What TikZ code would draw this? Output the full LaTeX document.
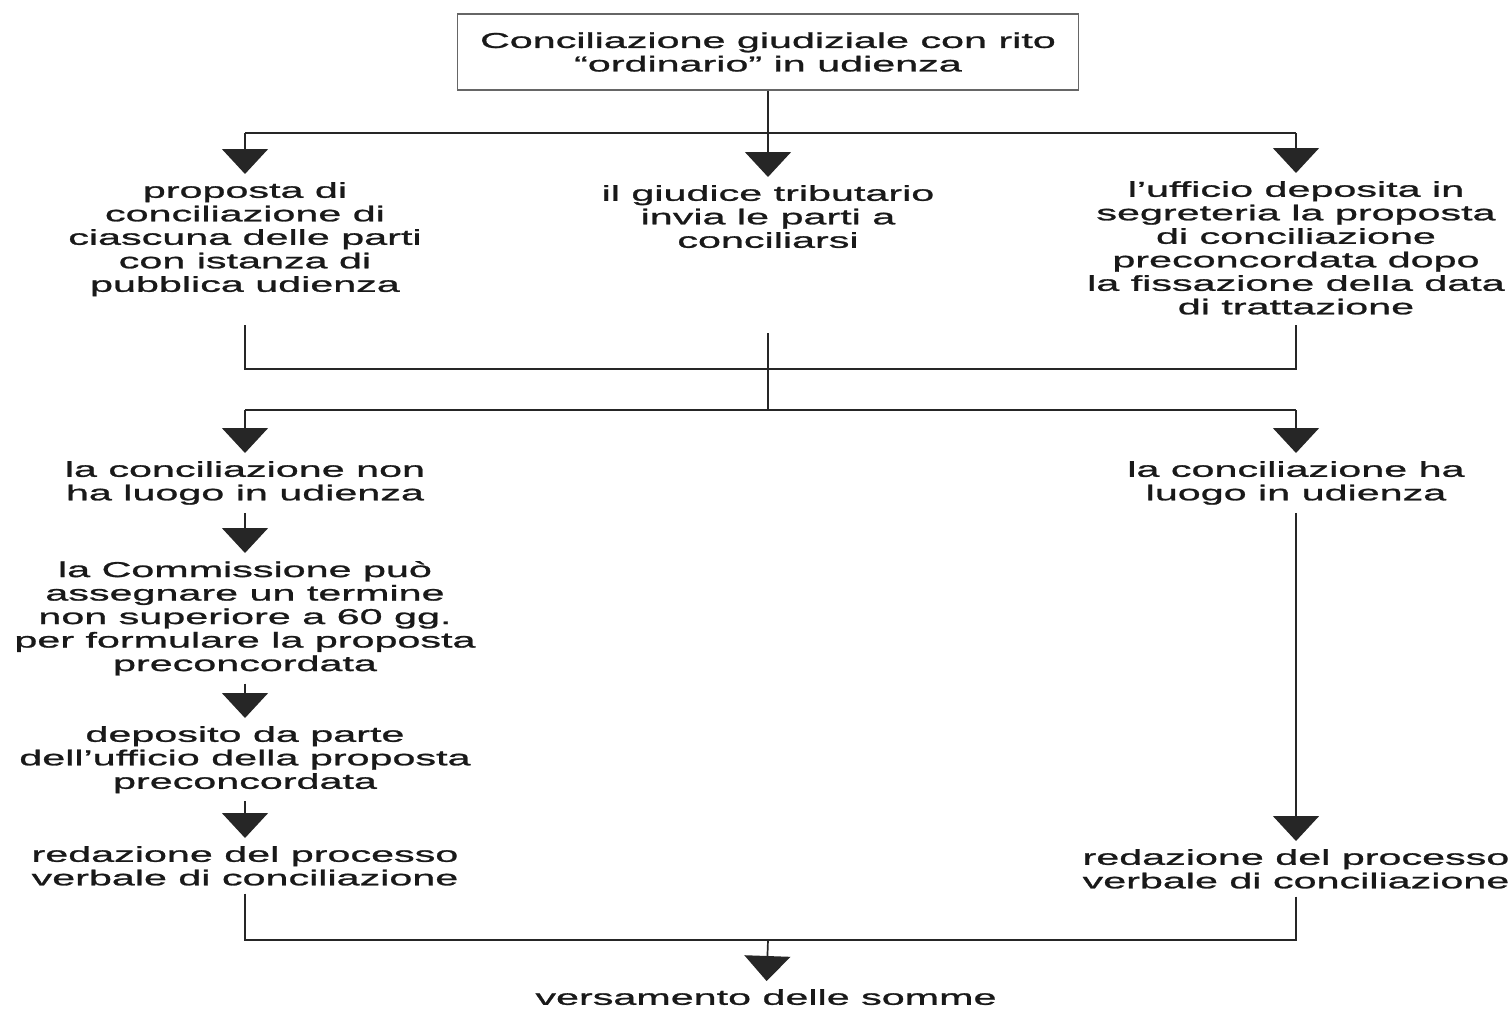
\documentclass[tikz,border=0pt]{standalone}
\usepackage{fontspec}
\setmainfont[FakeStretch=1.92, FakeBold=1.2]{Liberation Sans}
\usetikzlibrary{arrows.meta}

\begin{document}
\begin{tikzpicture}[x=1pt, y=-1pt, %%% one unit = one pixel of the page, y runs downwards
    txt/.style={align=center, inner xsep=0pt, inner ysep=8pt, anchor=north,
                font=\fontsize{21.5}{23.5}\selectfont, text=black!90},
    titlebox/.style={draw=black!60, line width=1.4pt, minimum width=621pt, minimum height=76pt,
                font=\fontsize{21.5}{23.5}\selectfont, align=center, text=black!90},
    lin/.style={draw=black!85, line width=1.7pt},
    arr/.style={lin, -{Triangle[width=46pt,length=25pt]}}]
      \useasboundingbox (0,0) rectangle (1510,1009);

      \node[titlebox] (title) at (768,52) {Conciliazione giudiziale con rito\\“ordinario” in udienza};

      %%% first row
      \node[txt] (propA) at (245,174) {proposta di\\conciliazione di\\ciascuna delle parti\\con istanza di\\pubblica udienza};
      \node[txt] (propB) at (768,177) {il giudice tributario\\invia le parti a\\conciliarsi};
      \node[txt] (propC) at (1296,173) {l’ufficio deposita in\\segreteria la proposta\\di conciliazione\\preconcordata dopo\\la fissazione della data\\di trattazione};

      \coordinate (jA) at (245,133);
      \coordinate (jB) at (768,133);
      \coordinate (jC) at (1296,133);
      \draw[lin] (title) -- (jB);
      \draw[lin] (jA) -- (jC);
      \draw[arr] (jA) -- (propA);
      \draw[arr] (jB) -- (propB);
      \draw[arr] (jC) -- (propC);

      %%% collecting bar and second split
      \coordinate (oA) at (245,325);
      \coordinate (oB) at (768,333);
      \coordinate (oC) at (1296,325);
      \coordinate (kA) at (245,369);
      \coordinate (kC) at (1296,369);
      \coordinate (kD) at (768,410);
      \coordinate (kE) at (245,410);
      \coordinate (kF) at (1296,410);
      \draw[lin] (oA) -- (kA) -- (kC) -- (oC);
      \draw[lin] (oB) -- (kD);
      \draw[lin] (kE) -- (kF);

      %%% left branch
      \node[txt] (noA) at (245,453) {la conciliazione non\\ha luogo in udienza};
      \node[txt] (commA) at (245,553) {la Commissione può\\assegnare un termine\\non superiore a 60 gg.\\per formulare la proposta\\preconcordata};
      \node[txt] (depA) at (245,718) {deposito da parte\\dell’ufficio della proposta\\preconcordata};
      \node[txt] (redA) at (245,838) {redazione del processo\\verbale di conciliazione};
      \draw[arr] (kE) -- (noA);
      \draw[arr] (noA) -- (commA);
      \draw[arr] (commA) -- (depA);
      \draw[arr] (depA) -- (redA);

      %%% right branch
      \node[txt] (noC) at (1296,453) {la conciliazione ha\\luogo in udienza};
      \node[txt] (redC) at (1296,841) {redazione del processo\\verbale di conciliazione};
      \draw[arr] (kF) -- (noC);
      \draw[arr] (noC) -- (redC);

      %%% join
      \coordinate (kG) at (768,940);
      \node[txt] (vers) at (766,981) {versamento delle somme};
      \draw[lin] (redA) |- (kG);
      \draw[lin] (redC) |- (kG);
      \draw[arr] (kG) -- (vers);
\end{tikzpicture}
\end{document}
